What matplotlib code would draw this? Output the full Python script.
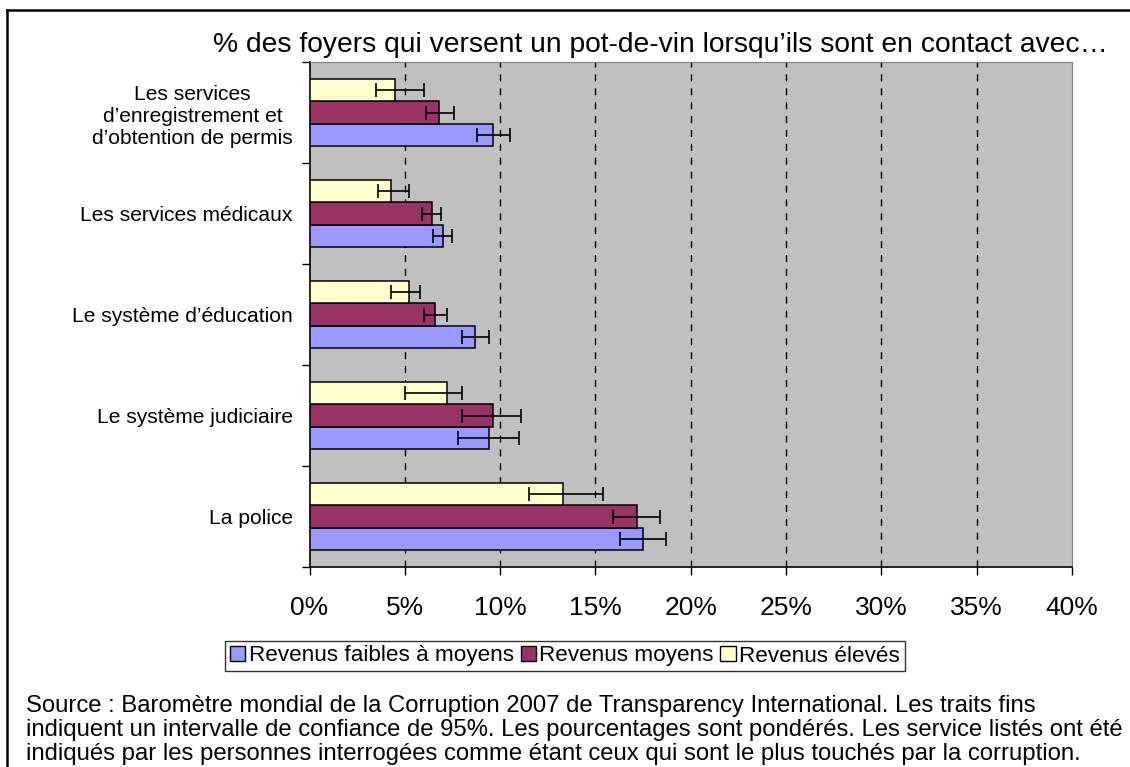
import matplotlib
matplotlib.use("Agg")
import matplotlib.pyplot as plt
import numpy as np
from matplotlib.patches import Patch
from matplotlib.lines import Line2D

plt.rcParams['font.family'] = ['Liberation Sans', 'DejaVu Sans']

categories = ["La police", "Le système judiciaire", "Le système d’éducation",
              "Les services médicaux",
              "Les services\nd’enregistrement et\nd’obtention de permis"]
series_names = ["Revenus faibles à moyens", "Revenus moyens", "Revenus élevés"]
# values (%) bottom-to-top category order
low_mid = [17.5, 9.4, 8.7, 7.0, 9.6]
low_mid_lo = [16.3, 7.8, 8.0, 6.5, 8.8]
low_mid_hi = [18.7, 11.0, 9.4, 7.5, 10.5]
mid = [17.2, 9.6, 6.6, 6.4, 6.8]
mid_lo = [15.9, 8.0, 6.0, 5.9, 6.1]
mid_hi = [18.4, 11.1, 7.2, 6.9, 7.6]
high = [13.3, 7.2, 5.2, 4.3, 4.5]
high_lo = [11.5, 5.0, 4.3, 3.6, 3.5]
high_hi = [15.4, 8.0, 5.8, 5.2, 6.0]
x_ticks = [0, 5, 10, 15, 20, 25, 30, 35, 40]
x_tick_labels = ["0%", "5%", "10%", "15%", "20%", "25%", "30%", "35%", "40%"]

title = "% des foyers qui versent un pot-de-vin lorsqu’ils sont en contact avec…"
source_lines = [
    "Source : Baromètre mondial de la Corruption 2007 de Transparency International. Les traits fins",
    "indiquent un intervalle de confiance de 95%. Les pourcentages sont pondérés. Les service listés ont été",
    "indiqués par les personnes interrogées comme étant ceux qui sont le plus touchés par la corruption.",
]

colors = ["#9999FF", "#993366", "#FFFFCC"]

W, H = 1130, 767
fig = plt.figure(figsize=(W / 100, H / 100), dpi=100)
ax = fig.add_axes([309.5 / W, 1 - 567 / H, (1072 - 309.5) / W, (567 - 62) / H])
ax.set_facecolor("#C0C0C0")

y = np.arange(len(categories))
h = 0.223
data = [(low_mid, low_mid_lo, low_mid_hi), (mid, mid_lo, mid_hi), (high, high_lo, high_hi)]
offsets = [-h, 0, h]
for (vals, lo, hi), off, c, name in zip(data, offsets, colors, series_names):
    vals = np.array(vals); lo = np.array(lo); hi = np.array(hi)
    ax.barh(y + off, vals, height=h, color=c, edgecolor="black", linewidth=1.1,
            label=name, zorder=3)
    ax.errorbar(vals, y + off, xerr=[vals - lo, hi - vals], fmt="none",
                ecolor="black", elinewidth=1.2, capsize=5, capthick=1.2, zorder=4)

ax.set_xlim(0, 40)
ax.set_ylim(-0.5, len(categories) - 0.5)
ax.set_xticks(x_ticks)
ax.set_xticklabels(x_tick_labels, fontsize=19)
ax.tick_params(axis="x", direction="out", length=6, width=1, pad=15)
for xv in x_ticks[1:-1]:
    ax.axvline(xv, color="black", linestyle=(0, (5, 5)), linewidth=1.0, zorder=1)

ax.set_yticks(np.arange(-0.5, len(categories), 1.0))
ax.set_yticklabels([])
ax.tick_params(axis="y", which="major", direction="out", length=6, width=1)
ax.set_yticks(y, minor=True)
ax.set_yticklabels(categories, minor=True, fontsize=15.1, multialignment="center",
                   linespacing=1.2)
ax.tick_params(axis="y", which="minor", length=0, pad=12)

for s in ["top", "right"]:
    ax.spines[s].set_color("#808080")
for s in ["left", "bottom"]:
    ax.spines[s].set_color("black")
    ax.spines[s].set_linewidth(1.2)

fig.text(660 / W, 1 - 45 / H, title, ha="center", va="center", fontsize=20.3)

handles = [Patch(facecolor=c, edgecolor="black", linewidth=1, label=n)
           for c, n in zip(colors, series_names)]
leg = fig.legend(handles=handles, loc="center", bbox_to_anchor=(565 / W, 1 - 656 / H),
                 ncol=3, fontsize=16.2, frameon=True, fancybox=False,
                 handlelength=0.68, handleheight=0.68, handletextpad=0.15,
                 columnspacing=0.3, borderpad=0.22, borderaxespad=0)
leg.get_frame().set_edgecolor("black")
leg.get_frame().set_linewidth(1)

for i, line in enumerate(source_lines):
    fig.text(26 / W, 1 - (706 + 24 * i) / H, line, ha="left", va="center",
             fontsize=17.2)

fig.add_artist(Line2D([7 / W, 7 / W], [0, 1 - 10 / H], color="black", linewidth=1.8,
                      transform=fig.transFigure))
fig.add_artist(Line2D([7 / W, 1], [1 - 10 / H, 1 - 10 / H], color="black", linewidth=1.8,
                      transform=fig.transFigure))

fig.savefig("out.png", dpi=100)
